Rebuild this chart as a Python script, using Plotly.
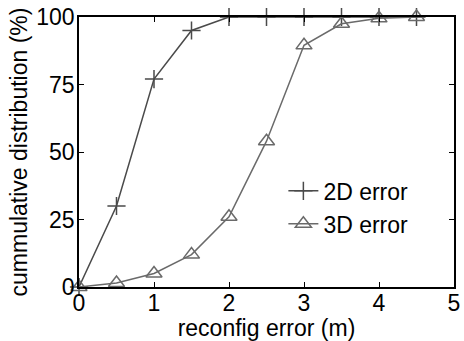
import plotly.graph_objects as go

error_m = [0, 0.5, 1, 1.5, 2, 2.5, 3, 3.5, 4, 4.5]
cdf_2d = [0, 30, 77, 95, 100, 100, 100, 100, 100, 100]
cdf_3d = [0, 1.5, 5, 12, 26, 54, 89.5, 97.5, 99.5, 100]
x_ticks = [0, 1, 2, 3, 4, 5]
y_ticks = [0, 25, 50, 75, 100]

col_2d = "#4a4a4a"
col_3d = "#6a6a6a"
font = dict(family="Liberation Sans, Arial, sans-serif", size=23, color="black")

fig = go.Figure()
fig.add_trace(go.Scatter(
    x=error_m, y=cdf_2d, mode="lines+markers", name="2D error",
    line=dict(color=col_2d, width=1.5),
    marker=dict(symbol="cross-thin-open", size=13, line=dict(color=col_2d, width=1.5)),
    cliponaxis=False,
))
fig.add_trace(go.Scatter(
    x=error_m, y=cdf_3d, mode="lines+markers", name="3D error",
    line=dict(color=col_3d, width=1.5),
    marker=dict(symbol="triangle-up-open", size=14, color=col_3d, line=dict(color=col_3d, width=1.5)),
    cliponaxis=False,
))

axis_common = dict(
    showline=True, linecolor="black", linewidth=1.5, mirror="ticks",
    ticks="inside", ticklen=5, tickcolor="black", showgrid=False, zeroline=False,
    tickfont=font, title_font=font, ticklabeloverflow="allow",
)
fig.update_xaxes(range=[0, 5], tickvals=x_ticks, title_text="reconfig error (m)",
                 title_standoff=0, ticklabelstandoff=-5, **axis_common)
fig.update_yaxes(range=[0, 100], tickvals=y_ticks, title_text="cummulative distribution (%)",
                 title_standoff=2, ticklabelstandoff=-2, **axis_common)

fig.update_layout(
    width=464, height=341,
    margin=dict(l=79, r=4, t=15, b=54),
    plot_bgcolor="white", paper_bgcolor="white",
    font=font,
    showlegend=True,
    legend=dict(x=0.545, y=0.295, xanchor="left", yanchor="middle", bgcolor="rgba(0,0,0,0)",
                font=font, itemwidth=30),
)

fig.write_html("out.html")
